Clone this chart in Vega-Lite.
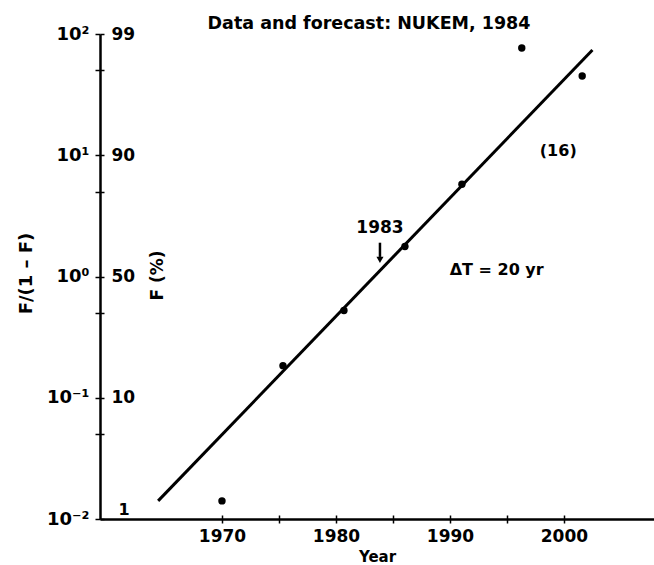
{
  "$schema": "https://vega.github.io/schema/vega-lite/v6.json",
  "width": 554,
  "height": 485,
  "autosize": "none",
  "padding": {"left": 100, "top": 34, "right": 0, "bottom": 46},
  "background": "white",
  "config": {
    "font": "DejaVu Sans",
    "view": {"stroke": null},
    "axis": {"grid": false, "labelColor": "black", "tickColor": "black", "domainColor": "black", "titleColor": "black", "labelFont": "DejaVu Sans", "titleFont": "DejaVu Sans", "labelFontWeight": "bold", "titleFontWeight": "bold", "labelOverlap": false, "labelFlush": false}
  },
  "title": {"text": "Data and forecast: NUKEM, 1984", "fontSize": 17.5, "fontWeight": "bold", "anchor": "middle", "frame": "group", "offset": -7, "dx": -8, "color": "black", "font": "DejaVu Sans"},
  "datasets": {
    "fit": [
      {"year": 1964.4, "ratio": 0.0141},
      {"year": 2002.5, "ratio": 73.8}
    ],
    "obs": [
      {"year": 1970.0, "ratio": 0.0141},
      {"year": 1975.35, "ratio": 0.184},
      {"year": 1980.7, "ratio": 0.524},
      {"year": 1986.05, "ratio": 1.77},
      {"year": 1991.05, "ratio": 5.77},
      {"year": 1996.3, "ratio": 76.7},
      {"year": 2001.6, "ratio": 45.1}
    ],
    "label1983": [{"year": 1983.86, "ratio": 2.51, "text": "1983"}],
    "arrow": [{"year": 1983.86, "top": 1.9, "bottom": 1.45, "head": 1.37}],
    "notes": [
      {"year": 1994.1, "ratio": 1.13, "text": "ΔT = 20 yr"},
      {"year": 1999.5, "ratio": 10.8, "text": "(16)"}
    ]
  },
  "layer": [
    {
      "data": {"name": "fit"},
      "mark": {"type": "line", "color": "black", "strokeWidth": 3},
      "encoding": {
        "x": {"field": "year", "type": "quantitative",
          "scale": {"domain": [1959.3, 2007.9], "nice": false, "zero": false},
          "axis": {"orient": "bottom", "values": [1970, 1975, 1980, 1985, 1990, 1995, 2000],
            "labelExpr": "datum.value % 10 == 0 ? datum.label : ''", "format": "d",
            "title": "Year", "titleFontSize": 15, "labelFontSize": 17,
            "tickSize": 4, "tickWidth": 1.5, "domainWidth": 2.5, "labelPadding": 5, "titlePadding": 5}},
        "y": {"field": "ratio", "type": "quantitative",
          "scale": {"type": "log", "domain": [0.01, 100], "nice": false},
          "axis": {"orient": "left", "values": [0.01, 0.05, 0.1, 0.5, 1, 5, 10, 50, 100],
            "labelExpr": "datum.value == 100 ? '10²' : datum.value == 10 ? '10¹' : datum.value == 1 ? '10⁰' : datum.value == 0.1 ? '10⁻¹' : datum.value == 0.01 ? '10⁻²' : ''",
            "labelFontSize": 18, "tickSize": 5, "tickWidth": 1.5, "domainWidth": 2.5, "labelPadding": 6,
            "title": "F/(1 – F)", "titleFontSize": 18, "titleAngle": -90, "titleX": -74, "titleY": 239,
            "titleAlign": "center", "titleBaseline": "middle"}}
      }
    },
    {
      "data": {"name": "obs"},
      "mark": {"type": "circle", "color": "black", "opacity": 1, "size": 55},
      "encoding": {
        "x": {"field": "year", "type": "quantitative",
          "scale": {"domain": [1959.3, 2007.9], "nice": false, "zero": false},
          "axis": {"orient": "bottom", "values": [1970, 1975, 1980, 1985, 1990, 1995, 2000],
            "labels": false, "domain": false, "tickSize": -4, "tickWidth": 1.5, "title": null}},
        "y": {"field": "ratio", "type": "quantitative",
          "scale": {"type": "log", "domain": [0.01, 100], "nice": false},
          "axis": {"orient": "left", "values": [0.01, 0.05, 0.1, 0.5, 1, 5, 10, 50, 100],
            "labelExpr": "datum.value == 100 ? '99' : datum.value == 10 ? '90' : datum.value == 1 ? '50' : datum.value == 0.1 ? '10' : ''",
            "labelFontSize": 17, "labelAlign": "left", "tickSize": -4, "tickWidth": 1.5, "labelPadding": -7,
            "domain": false,
            "title": "F (%)", "titleFontSize": 17, "titleAngle": -90, "titleX": 57, "titleY": 241,
            "titleAlign": "center", "titleBaseline": "middle"}}
      }
    },
    {
      "data": {"name": "arrow"},
      "mark": {"type": "rule", "color": "black", "strokeWidth": 2.5},
      "encoding": {
        "x": {"field": "year", "type": "quantitative", "axis": null},
        "y": {"field": "top", "type": "quantitative",
          "axis": {"orient": "left", "values": [0.01], "labelExpr": "'1'", "ticks": false, "domain": false,
            "labelFontSize": 16, "labelAlign": "left", "labelPadding": -18, "labelOffset": -10, "title": null}},
        "y2": {"field": "bottom"}
      }
    },
    {
      "data": {"name": "arrow"},
      "mark": {"type": "point", "shape": "triangle-down", "filled": true, "color": "black", "opacity": 1, "size": 50},
      "encoding": {
        "x": {"field": "year", "type": "quantitative", "axis": null},
        "y": {"field": "head", "type": "quantitative", "axis": null}
      }
    },
    {
      "data": {"name": "label1983"},
      "mark": {"type": "text", "fontSize": 17, "fontWeight": "bold", "font": "DejaVu Sans", "color": "black", "align": "center", "baseline": "middle"},
      "encoding": {
        "x": {"field": "year", "type": "quantitative", "axis": null},
        "y": {"field": "ratio", "type": "quantitative", "axis": null},
        "text": {"field": "text"}
      }
    },
    {
      "data": {"name": "notes"},
      "mark": {"type": "text", "fontSize": 16, "fontWeight": "bold", "font": "DejaVu Sans", "color": "black", "align": "center", "baseline": "middle"},
      "encoding": {
        "x": {"field": "year", "type": "quantitative", "axis": null},
        "y": {"field": "ratio", "type": "quantitative", "axis": null},
        "text": {"field": "text"}
      }
    }
  ],
  "resolve": {"axis": {"x": "independent", "y": "independent"}}
}
